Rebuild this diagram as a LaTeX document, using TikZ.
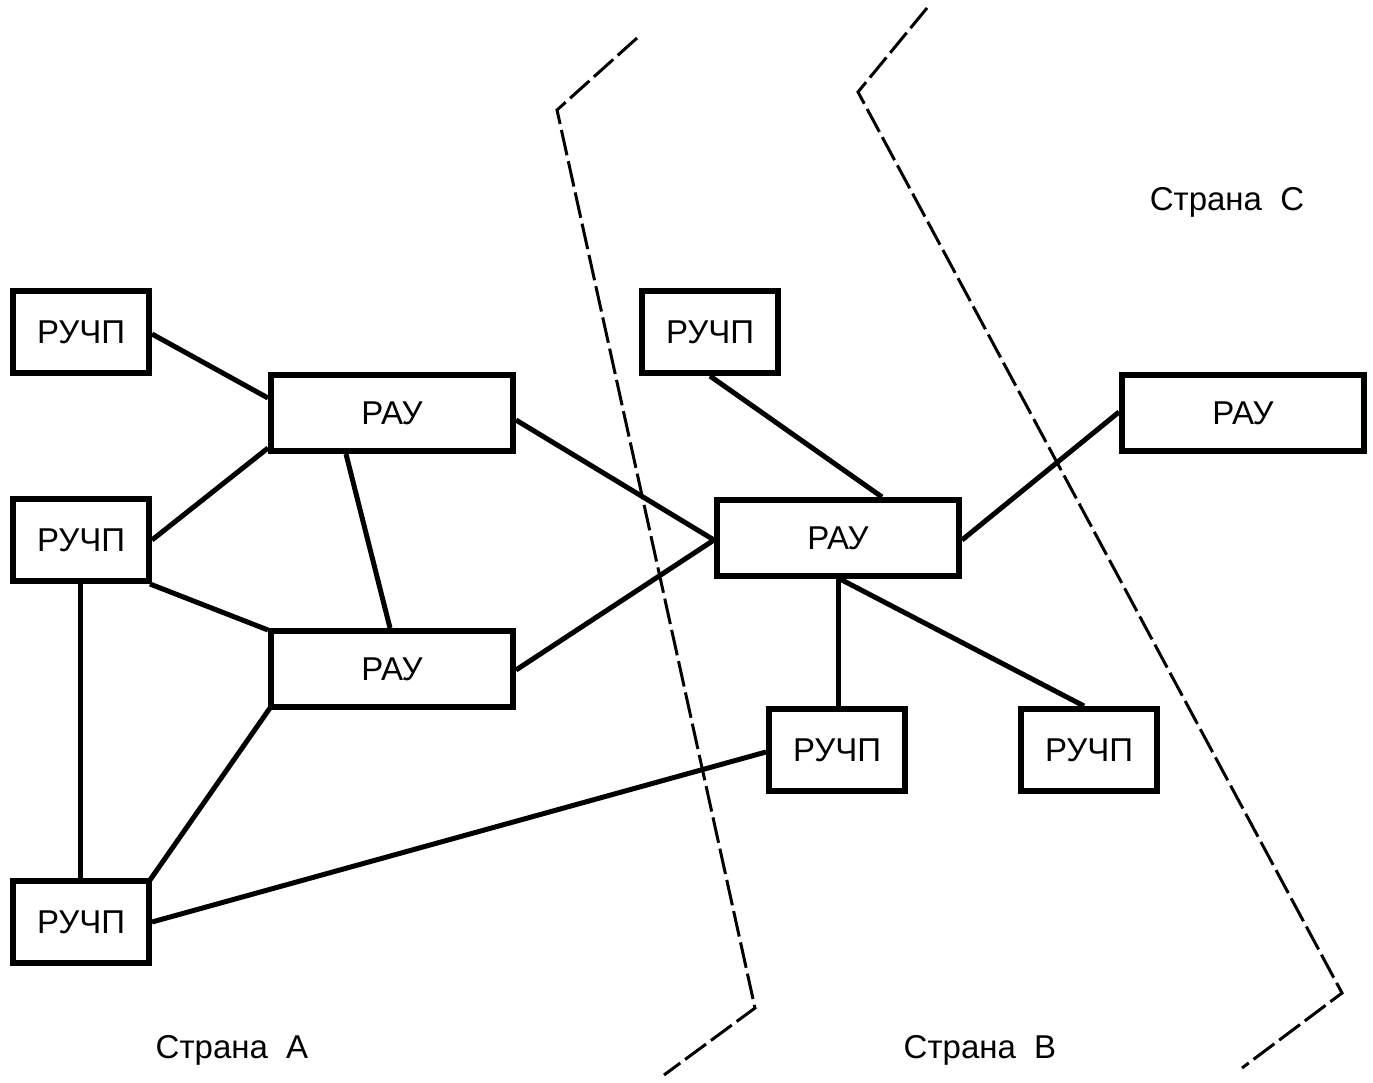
\documentclass[tikz,border=0pt]{standalone}
\usepackage{fontspec}
\setmainfont{Liberation Sans}
\usetikzlibrary{calc}
\begin{document}
\begin{tikzpicture}[x=1pt,y=-1pt,
  ruchp/.style={draw,line width=6pt,minimum width=136pt,minimum height=82pt,inner sep=0pt,font=\fontsize{33}{36}\selectfont},
  rau/.style={draw,line width=6pt,minimum width=242pt,minimum height=76pt,inner sep=0pt,font=\fontsize{33}{36}\selectfont},
  link/.style={line width=5pt},
  border/.style={line width=3pt,dash pattern=on 26pt off 6pt},
  lbl/.style={font=\fontsize{33}{36}\selectfont,inner sep=0pt}]
\fill[white] (0,0) rectangle (1373,1082);
\useasboundingbox (0,0) rectangle (1373,1082);
% borders
\coordinate (b1) at (637,38);
\coordinate (b2) at (557,110);
\coordinate (b3) at (755,1008);
\coordinate (b4) at (664,1075);
\coordinate (c1) at (927,8);
\coordinate (c2) at (858,92);
\coordinate (c3) at (1342,993);
\coordinate (c4) at (1242,1068);
\draw[border] (b1) -- (b2) -- (b3) -- (b4);
\draw[border] (c1) -- (c2) -- (c3) -- (c4);
% nodes
\node[ruchp] (p1) at (81,332) {РУЧП};
\node[rau]   (a1) at (392,413) {РАУ};
\node[ruchp] (p2) at (81,540) {РУЧП};
\node[rau]   (a2) at (392,669) {РАУ};
\node[ruchp] (p3) at (81,922) {РУЧП};
\node[ruchp] (p4) at (710,332) {РУЧП};
\node[rau]   (a3) at (838,538) {РАУ};
\node[rau]   (a4) at (1243,413) {РАУ};
\node[ruchp] (p5) at (837,750) {РУЧП};
\node[ruchp] (p6) at (1089,750) {РУЧП};
% labels
\node[lbl] (la) at (232,1050) {Страна\ \ А};
\node[lbl] (lb) at (980,1050) {Страна\ \ В};
\node[lbl] (lc) at (1227,202) {Страна\ \ С};
% links
\draw[link] ([yshift=-2pt]p1.east) -- ([yshift=15pt]a1.west);
\draw[link] (p2.east) -- ([yshift=-35pt]a1.west);
\draw[link] ([xshift=-46pt]a1.south) -- ([xshift=-2pt]a2.north);
\draw[link] ([xshift=-2pt]p2.south east) -- ([yshift=39pt]a2.west);
\draw[link] ([xshift=-1pt]p2.south) -- ([xshift=-1pt]p3.north);
\draw[link] ([xshift=2pt,yshift=2pt]a2.south west) -- ([xshift=-2pt,yshift=-2pt]p3.north east);
\draw[link] (p3.east) -- ([yshift=-2pt]p5.west);
\draw[link] ([yshift=-7pt]a1.east) -- ([yshift=-2pt]a3.west);
\draw[link] ([yshift=-1pt]a2.east) -- ([yshift=-2pt]a3.west);
\draw[link] (p4.south) -- ([xshift=44pt]a3.north);
\draw[link] ([yshift=-2pt]a3.east) -- ([yshift=1pt]a4.west);
\draw[link] (a3.south) -- ([xshift=1pt]p5.north);
\draw[link] ([xshift=2pt]a3.south) -- ([xshift=-5pt]p6.north);
\end{tikzpicture}
\end{document}
